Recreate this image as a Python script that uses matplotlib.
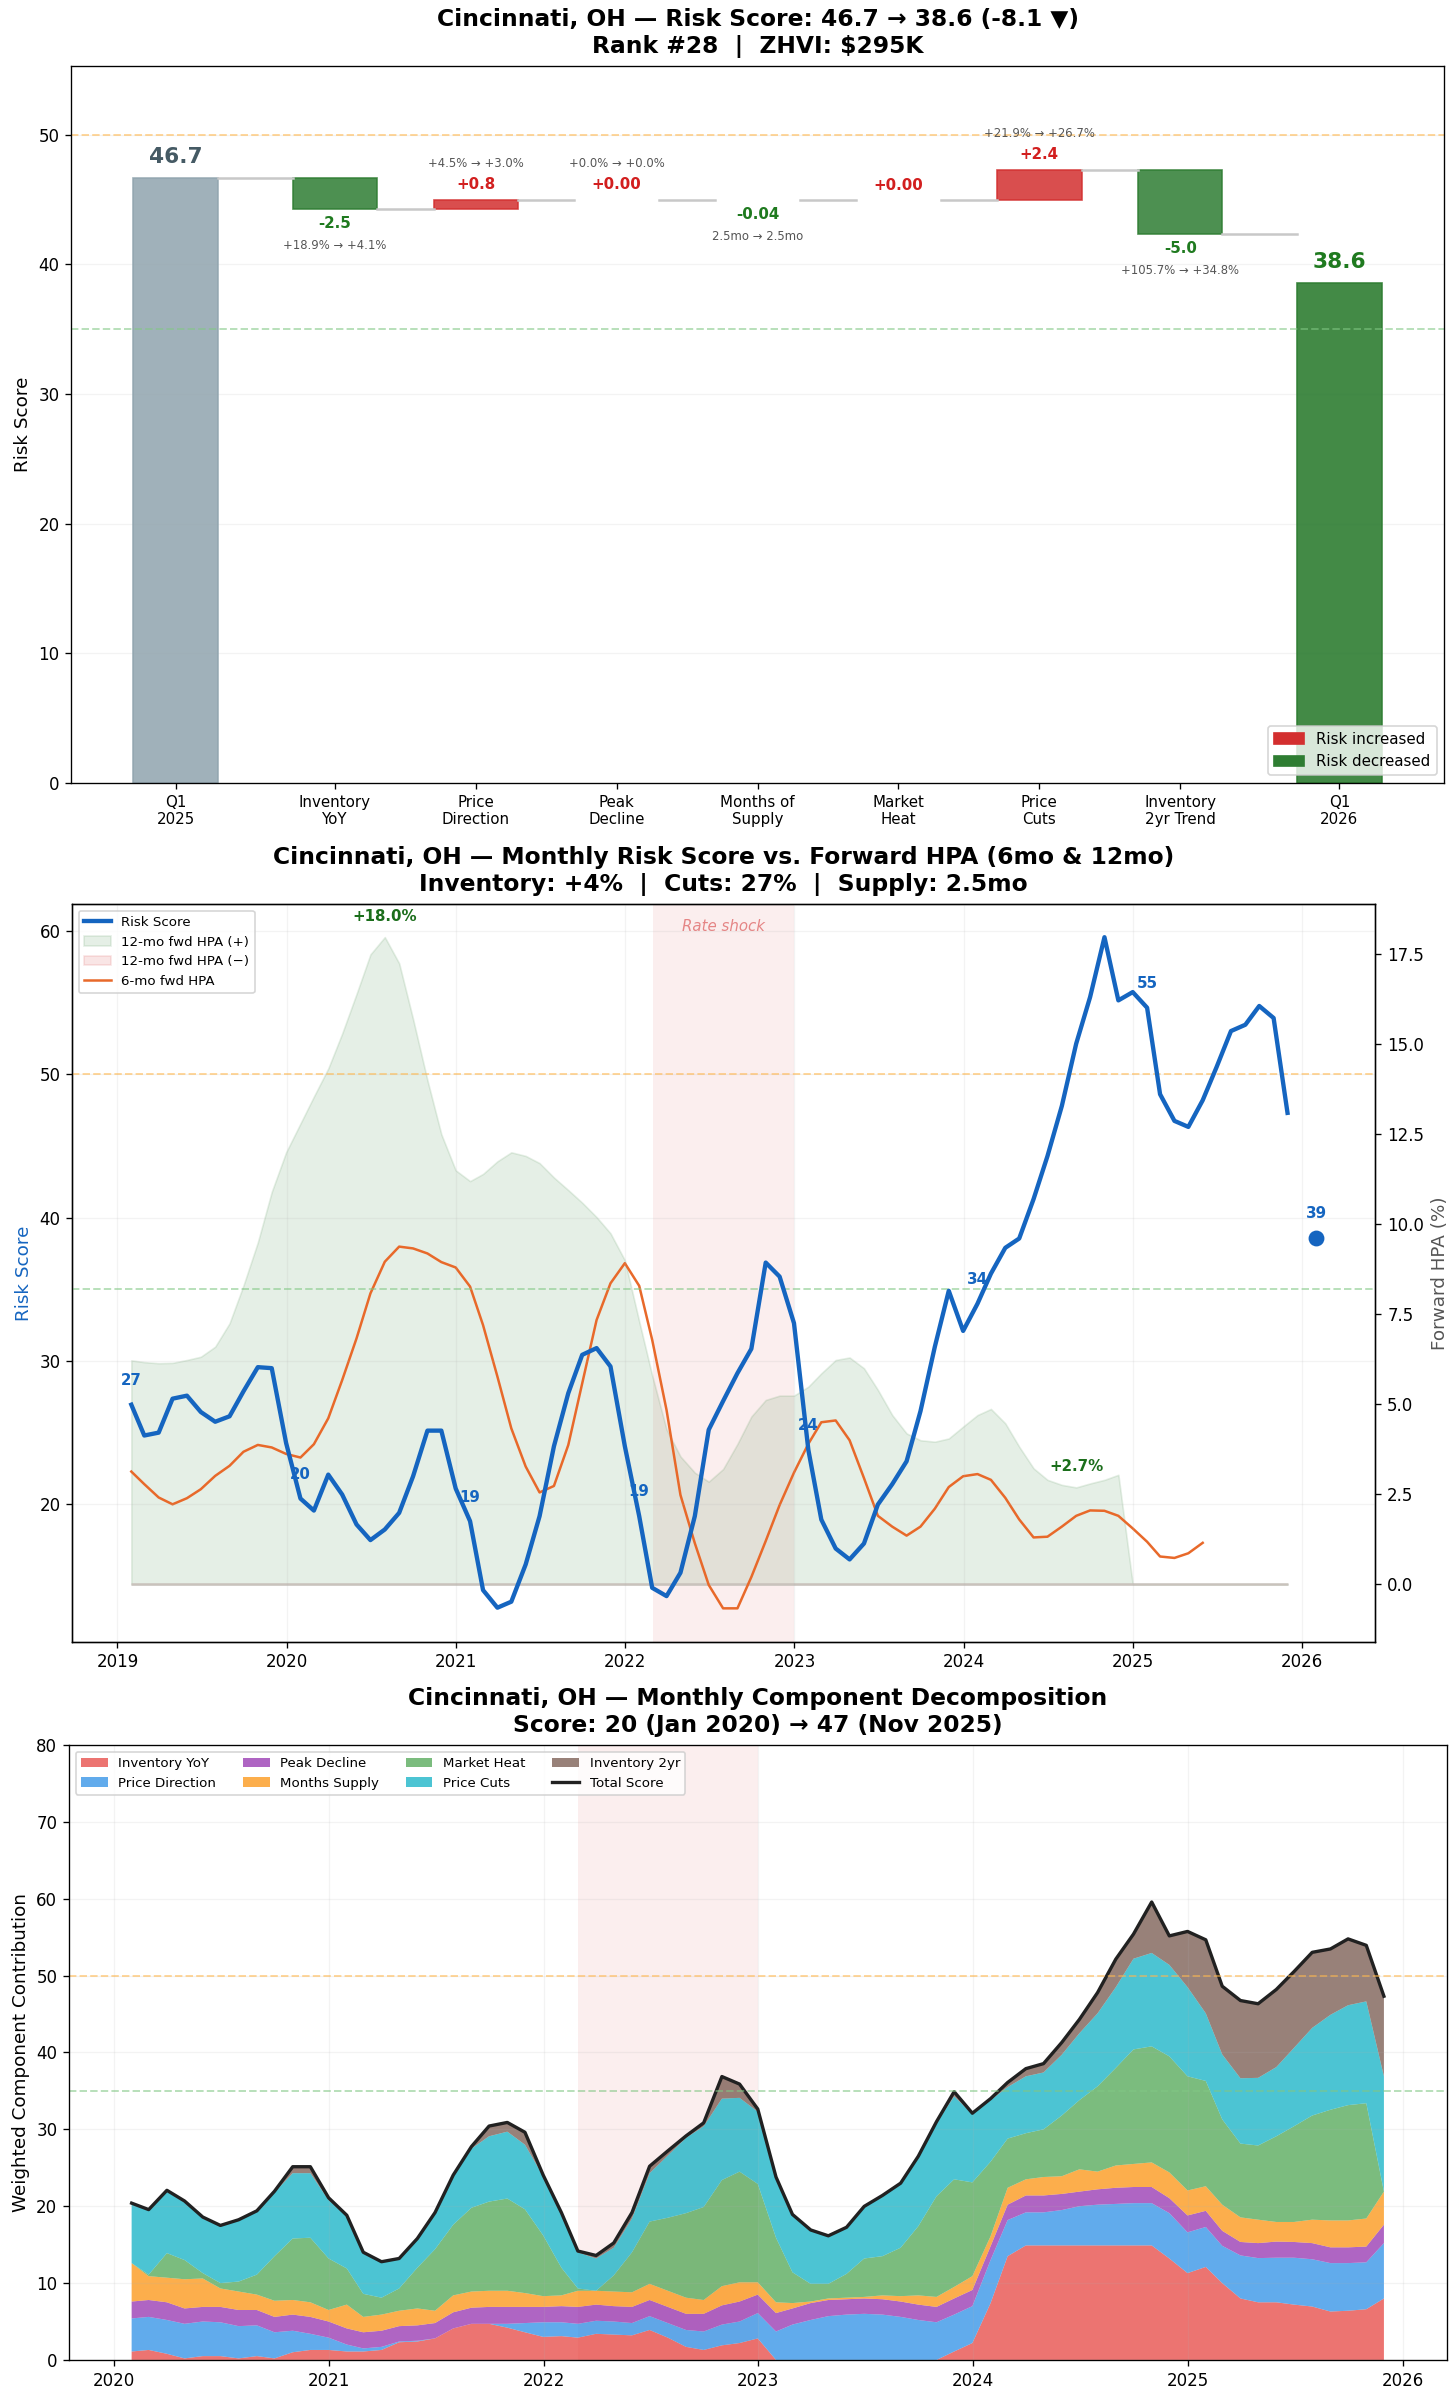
import numpy as np
import pandas as pd
import matplotlib
matplotlib.use('Agg')
import matplotlib.pyplot as plt
import matplotlib.dates as mdates
from matplotlib.patches import Patch
from matplotlib.lines import Line2D

# ---------------- waterfall data ----------------
wf_labels = ['Q1\n2025', 'Inventory\nYoY', 'Price\nDirection', 'Peak\nDecline',
             'Months of\nSupply', 'Market\nHeat', 'Price\nCuts', 'Inventory\n2yr Trend', 'Q1\n2026']
score_start = 46.7
score_end = 38.6
deltas = [-2.45, 0.75, 0.0, -0.04, 0.0, 2.35, -4.95]
delta_notes = ['+18.9% → +4.1%', '+4.5% → +3.0%', '+0.0% → +0.0%', '2.5mo → 2.5mo',
               '', '+21.9% → +26.7%', '+105.7% → +34.8%']

# ---------------- monthly series (Jan 2019 .. Nov 2025) ----------------
risk_score = [26.95, 24.8, 25.0, 27.37, 27.58, 26.44, 25.76, 26.14, 27.88, 29.57, 29.5, 24.28,
              20.4, 19.56, 22.07, 20.68, 18.59, 17.5, 18.24, 19.4, 21.95, 25.14, 25.14, 21.1,
              18.82, 14.01, 12.78, 13.2, 15.8, 19.17, 24.05, 27.76, 30.43, 30.9, 29.62, 24.05,
              19.17, 14.17, 13.59, 15.22, 19.17, 25.2, 27.2, 29.15, 30.85, 36.87, 35.89, 32.64,
              23.8, 18.93, 16.91, 16.15, 17.26, 19.98, 21.4, 23.0, 26.5, 31.0, 34.9, 32.1,
              34.0, 36.1, 37.9, 38.55, 41.3, 44.3, 47.8, 52.15, 55.4, 59.58, 55.17, 55.75,
              54.66, 48.62, 46.76, 46.34, 48.2, 50.52, 53.03, 53.47, 54.78, 53.94, 47.32]

hpa_12mo = [6.22, 6.17, 6.14, 6.15, 6.23, 6.32, 6.6, 7.25, 8.3, 9.5, 10.9, 12.0,
            12.8, 13.55, 14.33, 15.3, 16.4, 17.5, 17.98, 17.25, 15.7, 14.0, 12.5, 11.5,
            11.2, 11.4, 11.75, 12.0, 11.9, 11.7, 11.3, 10.95, 10.6, 10.2, 9.75, 9.0,
            7.3, 5.8, 4.3, 3.55, 3.1, 2.85, 3.2, 3.9, 4.66, 5.12, 5.24, 5.24,
            5.49, 5.86, 6.23, 6.3, 6.0, 5.4, 4.7, 4.19, 4.0, 3.96, 4.05, 4.38,
            4.7, 4.87, 4.47, 3.82, 3.22, 2.9, 2.76, 2.69, 2.8, 2.9, 3.04, None,
            None, None, None, None, None, None, None, None, None, None, None]

hpa_6mo = [3.13, 2.78, 2.41, 2.22, 2.39, 2.64, 3.01, 3.29, 3.68, 3.87, 3.8, 3.62,
           3.52, 3.89, 4.61, 5.67, 6.83, 8.08, 8.96, 9.38, 9.33, 9.19, 8.95, 8.8,
           8.27, 7.2, 5.77, 4.33, 3.27, 2.55, 2.73, 3.87, 5.58, 7.34, 8.36, 8.92,
           8.29, 6.79, 4.84, 2.48, 1.14, -0.02, -0.67, -0.67, 0.2, 1.2, 2.2, 3.1,
           3.9, 4.5, 4.55, 4.0, 2.95, 1.9, 1.6, 1.35, 1.6, 2.1, 2.7, 3.0,
           3.06, 2.9, 2.4, 1.8, 1.3, 1.32, 1.6, 1.9, 2.05, 2.04, 1.9, 1.55,
           1.18, 0.77, 0.73, 0.86, 1.15, None, None, None, None, None, None]

# ---------------- component decomposition (Jan 2020 .. Nov 2025) ----------------
comp_names = ['Inventory YoY', 'Price Direction', 'Peak Decline', 'Months Supply',
              'Market Heat', 'Price Cuts', 'Inventory 2yr']
inv_yoy = [1.1, 1.3, 0.8, 0.2, 0.5, 0.5, 0.2, 0.5, 0.2, 1.0, 1.3, 1.3,
           1.1, 1.1, 1.3, 2.3, 2.4, 2.8, 4.1, 4.7, 4.7, 4.2, 3.6, 3.0,
           3.1, 2.9, 3.4, 3.3, 3.2, 3.9, 2.9, 1.7, 1.3, 1.9, 2.2, 2.8,
           0.0, 0.0, 0.0, 0.0, 0.0, 0.0, 0.0, 0.0, 0.0, 0.0, 1.1, 2.2,
           7.4, 13.5, 14.9, 14.9, 14.9, 14.9, 14.9, 14.9, 14.9, 14.9, 13.2, 11.3,
           12.1, 10.0, 8.0, 7.5, 7.5, 7.2, 6.95, 6.3, 6.4, 6.6, 8.0]
price_dir = [4.3, 4.3, 4.4, 4.5, 4.5, 4.4, 4.2, 4.0, 3.4, 2.8, 2.1, 1.6,
             0.9, 0.4, 0.4, 0.1, 0.1, 0.0, 0.0, 0.0, 0.0, 0.5, 1.2, 1.9,
             1.8, 1.8, 1.7, 1.7, 1.6, 1.8, 1.9, 2.2, 2.4, 2.7, 2.8, 3.3,
             3.7, 4.6, 5.2, 5.7, 5.9, 6.0, 5.9, 5.6, 5.2, 4.9, 4.8, 4.8,
             5.6, 4.7, 4.3, 4.3, 4.6, 5.1, 5.3, 5.4, 5.5, 5.5, 5.9, 5.3,
             5.2, 4.85, 5.6, 5.75, 5.8, 6.1, 6.15, 6.3, 6.2, 6.1, 7.2]
peak_dec = [2.2, 2.2, 2.3, 2.0, 1.9, 2.0, 2.1, 2.0, 2.0, 2.1, 2.2, 2.1,
            2.1, 2.1, 2.1, 2.0, 2.0, 2.0, 2.1, 2.1, 2.2, 2.2, 2.1, 2.0,
            2.1, 2.2, 2.1, 2.0, 2.1, 2.1, 2.1, 2.1, 2.3, 2.5, 2.6, 2.4,
            2.4, 2.1, 2.2, 2.1, 2.0, 2.0, 2.0, 2.0, 2.0, 2.0, 2.1, 2.1,
            1.8, 2.0, 2.2, 2.2, 2.1, 1.9, 2.0, 2.1, 2.1, 2.1, 1.95, 2.2,
            2.1, 1.95, 1.75, 1.95, 2.1, 2.05, 2.1, 2.05, 2.05, 2.05, 2.4]
months_sup = [5.0, 3.1, 3.2, 3.8, 3.7, 2.4, 2.4, 2.0, 2.1, 1.9, 1.9, 1.5,
              3.1, 2.0, 2.1, 2.0, 2.2, 1.6, 2.2, 2.1, 2.1, 2.1, 1.8, 1.4,
              1.4, 2.1, 1.8, 1.9, 1.9, 2.1, 2.1, 2.1, 1.8, 2.5, 2.5, 1.6,
              1.4, 0.7, 0.2, 0.2, 0.2, 0.2, 0.5, 0.7, 1.2, 1.3, 1.5, 1.8,
              1.3, 2.2, 2.1, 2.4, 2.3, 2.9, 2.3, 2.9, 3.0, 3.2, 3.35, 3.25,
              3.2, 3.4, 3.2, 3.05, 2.55, 2.6, 3.05, 3.5, 3.5, 3.65, 4.3]
market_heat = [0.0, 0.2, 3.2, 2.5, 0.7, 0.7, 1.3, 2.6, 5.8, 8.0, 8.4, 6.7,
               4.7, 3.0, 2.2, 2.9, 5.3, 8.0, 9.2, 10.9, 11.6, 12.0, 10.9, 7.9,
               3.6, 0.3, 0.0, 2.1, 5.2, 8.1, 9.5, 11.0, 12.1, 13.8, 14.4, 12.8,
               8.4, 4.0, 2.3, 1.9, 3.1, 5.0, 5.1, 6.3, 9.0, 13.1, 14.0, 12.2,
               9.7, 6.4, 6.0, 6.2, 7.9, 9.0, 11.1, 12.7, 14.9, 15.1, 15.1, 14.85,
               13.7, 11.1, 9.6, 9.65, 11.15, 12.45, 13.55, 14.4, 15.0, 15.0, 0.0]
price_cuts = [7.7, 8.3, 8.0, 7.5, 7.1, 7.4, 7.9, 8.2, 8.3, 8.5, 8.4, 7.6,
              6.8, 5.3, 4.6, 3.8, 3.7, 4.7, 6.4, 7.7, 8.5, 8.7, 8.4, 7.7,
              7.1, 4.7, 4.2, 3.6, 4.4, 6.3, 8.1, 9.8, 10.5, 10.6, 9.6, 9.4,
              7.9, 7.5, 7.0, 6.2, 6.0, 6.7, 7.8, 8.3, 9.0, 9.5, 10.8, 8.9,
              8.0, 6.7, 7.4, 7.4, 7.9, 8.7, 9.5, 10.5, 11.8, 12.15, 11.9, 11.6,
              8.8, 8.45, 8.5, 8.8, 9.0, 10.2, 11.4, 12.35, 13.0, 13.25, 15.0]
inv_2yr = [0.1, 0.16, 0.17, 0.18, 0.19, 0.1, 0.14, 0.1, 0.15, 0.84, 0.84, 0.3,
           0.12, 0.11, 0.08, 0.1, 0.1, 0.07, 0.05, 0.26, 1.33, 1.2, 1.62, 0.15,
           0.07, 0.17, 0.39, 0.62, 0.77, 0.9, 0.6, 0.25, 0.45, 2.87, 1.8, 0.34,
           0.1, 0.03, 0.01, 0.05, 0.06, 0.08, 0.1, 0.1, 0.1, 0.2, 0.7, 0.2,
           0.2, 0.7, 1.0, 1.15, 1.6, 1.8, 2.7, 3.65, 3.2, 6.63, 3.77, 7.25,
           9.66, 8.9, 10.06, 9.64, 10.1, 9.92, 9.83, 8.57, 8.68, 7.28, 10.42]

q1_2026_score = 38.6
rate_shock = ('2022-03-01', '2023-01-01')

RED = '#d32f2f'
GREEN = '#2e7d32'
BLUE = '#1565c0'
ORANGE = '#e8692a'

months = pd.date_range('2019-01-01', periods=len(risk_score), freq='MS') + pd.offsets.MonthEnd(0)
risk = np.array(risk_score, dtype=float)
h12 = np.array([np.nan if v is None else v for v in hpa_12mo])
h6 = np.array([np.nan if v is None else v for v in hpa_6mo])

fig = plt.figure(figsize=(1456 / 120, 2401 / 120), dpi=120)

# =============== panel 1: waterfall ===============
ax1 = fig.add_axes([0.0488, 0.6739, 0.9430, 0.2986])
gap = 0.13
xpos = np.concatenate([[0], np.arange(1, 8) + gap, [8 + 2 * gap]])
w = 0.6

ax1.bar(xpos[0], score_start, w, color='#90a4ae', alpha=0.85, edgecolor='#90a4ae', lw=1)
ax1.text(xpos[0], score_start + 0.8, f'{score_start:.1f}', ha='center', va='bottom',
         fontsize=13, fontweight='bold', color='#455a64')

run = score_start
prev_right = xpos[0] + w / 2
for i, d in enumerate(deltas):
    x = xpos[i + 1]
    c = RED if d >= 0 else GREEN
    bottom = run if d >= 0 else run + d
    ax1.bar(x, abs(d), w, bottom=bottom, color=c, alpha=0.85, edgecolor=c,
            lw=1 if abs(d) >= 0.1 else 0)
    ax1.plot([prev_right, x - w / 2], [run, run], color='#c8c8c8', lw=1.5)
    lab = f'{d:+.2f}' if abs(d) < 0.1 else f'{d:+.1f}'
    lc = '#d21f1f' if d >= 0 else '#1f7a1f'
    if d >= 0:
        top = run + d
        ax1.text(x, top + 0.55, lab, ha='center', va='bottom', fontsize=9, fontweight='bold', color=lc)
        ax1.text(x, top + 2.3, delta_notes[i], ha='center', va='bottom', fontsize=7, color='#555555')
    else:
        bot = run + d
        ax1.text(x, bot - 0.55, lab, ha='center', va='top', fontsize=9, fontweight='bold', color=lc)
        ax1.text(x, bot - 2.3, delta_notes[i], ha='center', va='top', fontsize=7, color='#555555')
    run += d
    prev_right = x + w / 2

ax1.plot([prev_right, xpos[-1] - w / 2], [run, run], color='#c8c8c8', lw=1.5)
end_col = GREEN if score_end < score_start else RED
ax1.bar(xpos[-1], score_end, w, color=end_col, alpha=0.9, edgecolor=end_col, lw=1)
ax1.text(xpos[-1], score_end + 0.8, f'{score_end:.1f}', ha='center', va='bottom',
         fontsize=13, fontweight='bold', color='#1f7a1f')

ax1.axhline(50, color='#ffb74d', ls='--', lw=1.2, alpha=0.55)
ax1.axhline(35, color='#81c784', ls='--', lw=1.2, alpha=0.55)
ax1.set_xticks(xpos)
ax1.set_xticklabels(wf_labels, fontsize=9)
ax1.tick_params(axis='y', labelsize=10)
ax1.set_ylim(0, 55.3)
ax1.set_ylabel('Risk Score', fontsize=11)
ax1.grid(axis='y', alpha=0.15)
ax1.set_axisbelow(True)
ax1.legend(handles=[Patch(facecolor=RED, edgecolor=RED, label='Risk increased'),
                    Patch(facecolor=GREEN, edgecolor=GREEN, label='Risk decreased')],
           loc='lower right', fontsize=9)
chg = score_end - score_start
arrow = '▼' if chg < 0 else '▲'
ax1.set_title(f'Cincinnati, OH — Risk Score: {score_start:.1f} → {score_end:.1f} ({chg:+.1f} {arrow})\n'
              f'Rank #28  |  ZHVI: $295K', fontsize=14, fontweight='bold', pad=8)

# =============== panel 2: risk score vs forward HPA ===============
ax2 = fig.add_axes([0.0495, 0.3162, 0.8952, 0.3073])
ax2b = ax2.twinx()
ax2.set_zorder(ax2b.get_zorder() + 1)
ax2.patch.set_visible(False)

span0, span1 = pd.Timestamp(rate_shock[0]), pd.Timestamp(rate_shock[1])
ax2b.axvspan(span0, span1, color=RED, alpha=0.08, lw=0)
h12_fill = np.nan_to_num(h12)
ax2b.fill_between(months, 0, h12_fill, where=h12_fill >= 0, color=GREEN, alpha=0.12,
                  lw=1, interpolate=True)
ax2b.fill_between(months, 0, h12_fill, where=h12_fill < 0, color=RED, alpha=0.12,
                  lw=1, interpolate=True)
ax2b.hlines(0, months[0], months[-1], color='#c9c2bc', lw=1.5)
ax2b.plot(months, h6, color=ORANGE, lw=1.5)

imax = int(np.nanargmax(h12))
imin = int(np.nanargmin(h12))
for idx in (imax, imin):
    ax2b.annotate(f'{h12[idx]:+.1f}%', (months[idx], h12[idx]), xytext=(0, 8),
                  textcoords='offset points', ha='center', va='bottom',
                  fontsize=9, fontweight='bold', color='#1b6e1b')
ax2b.set_ylim(-1.6, 18.9)
ax2b.set_ylabel('Forward HPA (%)', fontsize=11, color='#555555')
ax2b.tick_params(axis='y', labelsize=10)

ax2.axhline(50, color='#ffb74d', ls='--', lw=1.2, alpha=0.55)
ax2.axhline(35, color='#81c784', ls='--', lw=1.2, alpha=0.55)
ax2.plot(months, risk, color=BLUE, lw=2.6)
for i in range(0, len(risk), 12):
    ax2.annotate(f'{risk[i]:.0f}', (months[i], risk[i]), xytext=(0, 10),
                 textcoords='offset points', ha='center', va='bottom',
                 fontsize=9, fontweight='bold', color=BLUE)
q1_date = pd.Timestamp('2026-01-31')
ax2.plot([q1_date], [q1_2026_score], 'o', color=BLUE, ms=8.5)
ax2.annotate(f'{q1_2026_score:.0f}', (q1_date, q1_2026_score), xytext=(0, 10),
             textcoords='offset points', ha='center', va='bottom',
             fontsize=9, fontweight='bold', color=BLUE)
ax2.text(span0 + (span1 - span0) / 2, 0.97, 'Rate shock', transform=ax2.get_xaxis_transform(),
         ha='center', va='center', fontsize=9, style='italic', color=RED, alpha=0.55)
ax2.set_ylim(10.4, 61.9)
ax2.set_ylabel('Risk Score', fontsize=11, color=BLUE)
ax2.tick_params(labelsize=10)
ax2.grid(alpha=0.15)
ax2.xaxis.set_major_locator(mdates.YearLocator())
ax2.xaxis.set_major_formatter(mdates.DateFormatter('%Y'))
ax2.legend(handles=[Line2D([0], [0], color=BLUE, lw=2.6, label='Risk Score'),
                    Patch(facecolor=GREEN, alpha=0.12, edgecolor=GREEN, label='12-mo fwd HPA (+)'),
                    Patch(facecolor=RED, alpha=0.12, edgecolor=RED, label='12-mo fwd HPA (−)'),
                    Line2D([0], [0], color=ORANGE, lw=1.5, label='6-mo fwd HPA')],
           loc='upper left', fontsize=8)
ax2.set_title('Cincinnati, OH — Monthly Risk Score vs. Forward HPA (6mo & 12mo)\n'
              'Inventory: +4%  |  Cuts: 27%  |  Supply: 2.5mo', fontsize=14, fontweight='bold', pad=8)

# =============== panel 3: component decomposition ===============
ax3 = fig.add_axes([0.0474, 0.0171, 0.9461, 0.2561])
m3 = months[12:]
total = risk[12:]
comp_colors = ['#e53935', '#1e88e5', '#8e24aa', '#fb8c00', '#43a047', '#00acc1', '#6d4c41']
ax3.axvspan(span0, span1, color=RED, alpha=0.08, lw=0)
ax3.stackplot(m3, inv_yoy, price_dir, peak_dec, months_sup, market_heat, price_cuts, inv_2yr,
              labels=comp_names, colors=comp_colors, alpha=0.7, lw=0)
ax3.plot(m3, total, color='#212121', lw=2, label='Total Score')
ax3.axhline(50, color='#ffb74d', ls='--', lw=1.2, alpha=0.55)
ax3.axhline(35, color='#81c784', ls='--', lw=1.2, alpha=0.55)
ax3.set_ylim(0, 80)
ax3.set_ylabel('Weighted Component Contribution', fontsize=11)
ax3.tick_params(labelsize=10)
ax3.grid(alpha=0.15)
ax3.xaxis.set_major_locator(mdates.YearLocator())
ax3.xaxis.set_major_formatter(mdates.DateFormatter('%Y'))
ax3.legend(loc='upper left', ncol=4, fontsize=8)
ax3.set_title('Cincinnati, OH — Monthly Component Decomposition\n'
              f'Score: {total[0]:.0f} (Jan 2020) → {total[-1]:.0f} (Nov 2025)',
              fontsize=14, fontweight='bold', pad=8)

fig.savefig('out.png', dpi=120)
